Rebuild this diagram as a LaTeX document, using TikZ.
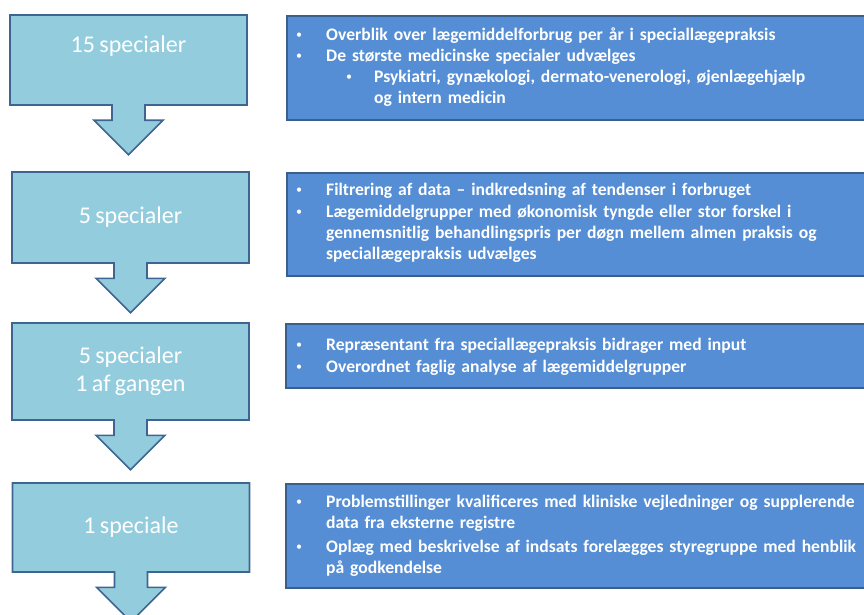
\documentclass[tikz,border=0pt]{standalone}
\usepackage{fontspec}
\setmainfont{Carlito}[WordSpace=0.8]
\usepackage{tikz}
\usetikzlibrary{positioning, shapes.arrows}
\definecolor{stepfill}{HTML}{93CDDD}
\definecolor{stepline}{HTML}{3E6592}
\definecolor{infofill}{HTML}{558ED5}
\definecolor{infoline}{HTML}{3A5F8B}

\begin{document}
\begin{tikzpicture}[x=1pt, y=-1pt,
    stepbox/.style={shape=arrow box, draw=stepline, fill=stepfill, line width=1.6pt,
        minimum width=237pt, minimum height=90pt, inner sep=0pt,
        arrow box arrows={south:49pt from border}, arrow box shaft width=33pt,
        arrow box head extend=18pt, arrow box tip angle=90,
        text=white, font=\fontsize{24}{28}\selectfont, align=center},
    infobox/.style={draw=infoline, fill=infofill, line width=1.6pt, anchor=north west,
        minimum width=590pt, inner sep=0pt},
    dotmark/.style={anchor=base west, text=white, inner sep=0pt, font=\fontsize{12}{21}\selectfont},
    item/.style={anchor=base west, text=white, inner sep=0pt, align=left, text width=545pt,
        font=\bfseries\fontsize{17.6}{21}\selectfont}]
    \clip (0,0) rectangle (864,615);
    % venstre side: trin
    \node[stepbox, text height=16pt, text depth=30pt] (S1) at (128.5,60) {15 specialer};
    \node[stepbox, minimum height=91pt] (S2) at (130.5,217.5) {5 specialer};
    \node[stepbox, minimum height=97pt] (S3) at (130.5,371.5) {5 specialer\\1 af gangen};
    \node[stepbox, minimum height=89pt] (S4) at (131,527.5) {1 speciale};
    % hoejre side: indhold
    \node[infobox, minimum height=104pt] (I1) at (286,15) {};
    \node[infobox, minimum height=103pt] (I2) at (286,172) {};
    \node[infobox, minimum height=64pt] (I3) at (285,323) {};
    \node[infobox, minimum height=104pt] (I4) at (285,483) {};
    % punkter
    \node[dotmark] (D11) at (296,39) {•};
    \node[item] (T11) at (326,41) {Overblik over lægemiddelforbrug per år i speciallægepraksis};
    \node[dotmark] (D12) at (296,60) {•};
    \node[item] (T12) at (326,62) {De største medicinske specialer udvælges};
    \node[dotmark] (D13) at (346,81) {•};
    \node[item] (T13) at (374,83) {Psykiatri, gynækologi, dermato-venerologi, øjenlægehjælp\\og intern medicin};
    \node[dotmark] (D21) at (296,193) {•};
    \node[item] (T21) at (326,195) {Filtrering af data -- indkredsning af tendenser i forbruget};
    \node[dotmark] (D22) at (296,215) {•};
    \node[item] (T22) at (326,217) {Lægemiddelgrupper med økonomisk tyngde eller stor forskel i\\gennemsnitlig behandlingspris per døgn mellem almen praksis og\\speciallægepraksis udvælges};
    \node[dotmark] (D31) at (296,348) {•};
    \node[item] (T31) at (326,350) {Repræsentant fra speciallægepraksis bidrager med input};
    \node[dotmark] (D32) at (296,370) {•};
    \node[item] (T32) at (326,372) {Overordnet faglig analyse af lægemiddelgrupper};
    \node[dotmark] (D41) at (296,505) {•};
    \node[item] (T41) at (326,507) {Problemstillinger kvalificeres med kliniske vejledninger og supplerende\\data fra eksterne registre};
    \node[dotmark] (D42) at (296,550) {•};
    \node[item] (T42) at (326,552) {Oplæg med beskrivelse af indsats forelægges styregruppe med henblik\\på godkendelse};
\end{tikzpicture}
\end{document}
